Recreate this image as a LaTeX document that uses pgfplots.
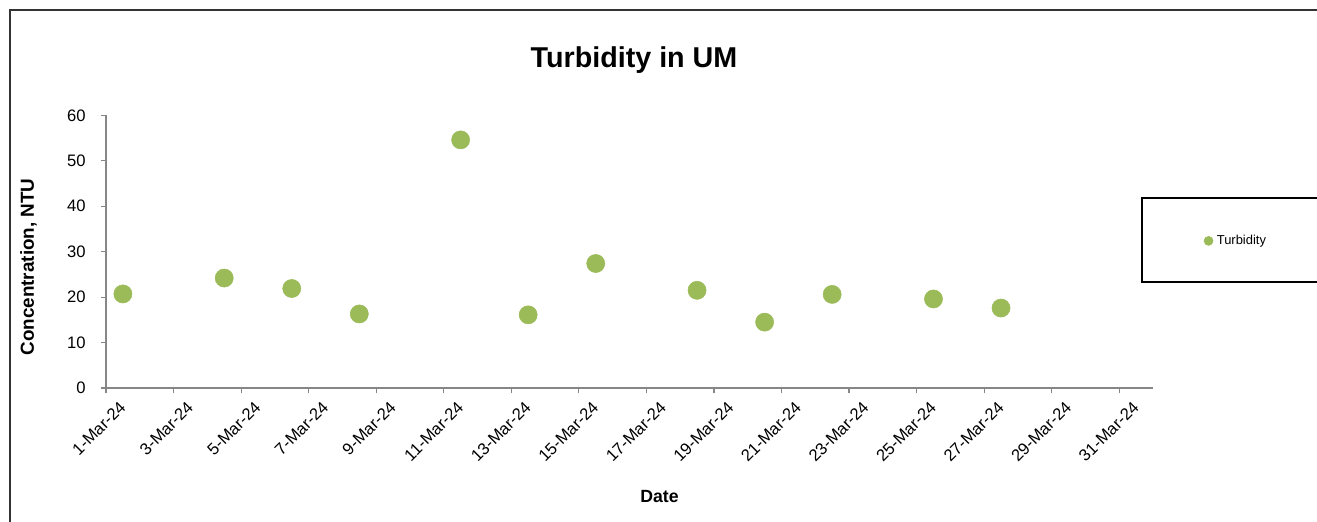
\documentclass[border=0pt]{standalone}
\usepackage{fontspec}
\setmainfont{Liberation Sans}
\usepackage{pgfplots}
\pgfplotsset{compat=1.18}
\definecolor{tgreen}{HTML}{9BBB59}
\definecolor{axgray}{HTML}{868686}
\begin{document}
\begin{tikzpicture}[x=0.75bp,y=0.75bp]
\useasboundingbox (0,0) rectangle (1317,-521);
\clip (0,0) rectangle (1317,-521);
\draw[black!80, line width=1.1bp] (10,-540) -- (10,-10) -- (1340,-10);
\draw[black, line width=0.8bp] (1340,-198) -- (1142,-198) -- (1142,-282) -- (1340,-282);
\begin{axis}[
  at={(79.5bp,-291bp)}, anchor=south west,
  scale only axis, width=785.25bp, height=204.5bp,
  xmin=1, xmax=32, ymin=0, ymax=60,
  axis x line*=bottom, axis y line*=left,
  axis line style={axgray, line width=1.1bp},
  tick style={axgray, line width=0.9bp},
  tick align=outside, major tick length=3.75bp,
  xtick={1,3,...,31},
  xticklabels={1-Mar-24,3-Mar-24,5-Mar-24,7-Mar-24,9-Mar-24,11-Mar-24,13-Mar-24,15-Mar-24,17-Mar-24,19-Mar-24,21-Mar-24,23-Mar-24,25-Mar-24,27-Mar-24,29-Mar-24,31-Mar-24},
  ytick={0,10,...,60},
  /pgf/number format/assume math mode=true,
  tick label style={font=\fontsize{12.5}{14}\selectfont, black},
  xticklabel style={xshift=12.6bp, yshift=-8.6bp, rotate=45, anchor=east, inner sep=0pt},
  yticklabel style={xshift=-8bp},
  title={Turbidity in UM},
  title style={at={(0.5043,1.1454)}, anchor=base, font=\bfseries\fontsize{21.6}{24}\selectfont},
  xlabel={Date},
  xlabel style={at={(0.5287,-0.4196)}, anchor=base, font=\bfseries\fontsize{13.3}{15}\selectfont},
  ylabel={Concentration, NTU},
  ylabel style={at={(-0.0688,0.444)}, anchor=base, font=\bfseries\fontsize{14.2}{16}\selectfont},
  legend style={at={(1.0482,0.5396)}, anchor=west, draw=none, fill=none, inner sep=0pt,
    nodes={inner sep=0pt}, font=\fontsize{9.75}{11}\selectfont},
  legend image code/.code={\fill[tgreen] (3.4bp,0bp) circle (3.4bp); \path (9.4bp,0bp);},
]
\addplot[color=tgreen, only marks, mark=*, mark size=6.8bp, mark options={draw=tgreen, fill=tgreen}]
coordinates {
(1.5,20.7)
(4.5,24.2)
(6.5,21.9)
(8.5,16.3)
(11.5,54.6)
(13.5,16.1)
(15.5,27.4)
(18.5,21.5)
(20.5,14.5)
(22.5,20.6)
(25.5,19.6)
(27.5,17.6)
};
\addlegendentry{Turbidity}
\end{axis}
\end{tikzpicture}
\end{document}
